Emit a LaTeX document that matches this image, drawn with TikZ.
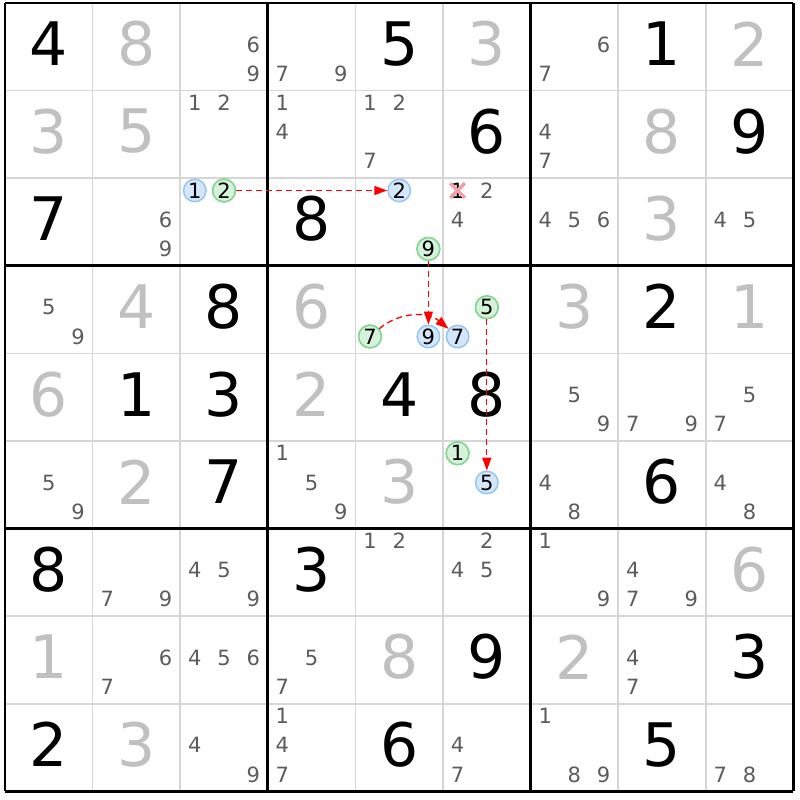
\documentclass[tikz,border=0pt]{standalone}
\usepackage{fontspec}
\setmainfont{DejaVu Sans}
\usetikzlibrary{arrows.meta}
\definecolor{candgray}{HTML}{5C5C5C}
\definecolor{solvedgray}{HTML}{C0C0C0}
\definecolor{gridgray}{HTML}{D6D6D6}
\definecolor{onfill}{HTML}{D4E6FA}
\definecolor{ondraw}{HTML}{90C4F4}
\definecolor{offfill}{HTML}{D6F2DA}
\definecolor{offdraw}{HTML}{84D894}
\definecolor{xpink}{HTML}{F4A0A8}

% style, row, column, digit
\newcommand{\putcand}[4]{%
  \pgfmathsetmacro\px{5+(#3-1)*87.6+14.6+29.2*mod(#4-1,3)}%
  \pgfmathsetmacro\py{3+(#2-1)*87.6+12.3+29.2*div(#4-1,3)}%
  \node[#1] (c#2#3#4) at (\px,\py) {#4};}

\begin{document}
\begin{tikzpicture}[x=1pt, y=-1pt,
    given/.style={inner sep=0pt, font=\fontsize{60}{60}\selectfont},
    solved/.style={given, text=solvedgray},
    cand/.style={inner sep=0pt, text=candgray, font=\fontsize{21}{21}\selectfont},
    elim/.style={cand, text=black},
    oncand/.style={cand, text=black, circle, draw=ondraw, fill=onfill, line width=1.4pt, minimum size=22.5pt},
    offcand/.style={oncand, draw=offdraw, fill=offfill},
    link/.style={red, line width=1.3pt, dash pattern=on 6pt off 4pt, -{Triangle[length=13pt,width=9pt]}}]
  \useasboundingbox (0,0) rectangle (800,800);
  \fill[white] (0,0) rectangle (800,800);
  % thin cell lines, then box lines
  \foreach \i in {1,2,4,5,7,8} {
    \draw[gridgray, line width=1.6pt] ({5+\i*87.6},3) -- ({5+\i*87.6},791.4);
    \draw[gridgray, line width=1.6pt] (5,{3+\i*87.6}) -- (793.4,{3+\i*87.6});
  }
  \foreach \i in {0,3,6,9} {
    \draw[black, line width=2.8pt] ({5+\i*87.6},3) -- ({5+\i*87.6},791.4);
    \draw[black, line width=2.8pt] (5,{3+\i*87.6}) -- (793.4,{3+\i*87.6});
  }
  \foreach \r/\c/\d in {1/1/4, 1/5/5, 1/8/1, 2/6/6, 2/9/9, 3/1/7, 3/4/8, 4/3/8, 4/8/2,
      5/2/1, 5/3/3, 5/5/4, 5/6/8, 6/3/7, 6/8/6, 7/1/8, 7/4/3, 8/6/9, 8/9/3,
      9/1/2, 9/5/6, 9/8/5}
    \node[given] (g\r\c) at ({5+(\c-0.5)*87.6},{3+(\r-0.5)*87.6-3}) {\d};
  \foreach \r/\c/\d in {1/2/8, 1/6/3, 1/9/2, 2/1/3, 2/2/5, 2/8/8, 3/8/3, 4/2/4, 4/4/6,
      4/7/3, 4/9/1, 5/1/6, 5/4/2, 6/2/2, 6/5/3, 7/9/6, 8/1/1, 8/5/8, 8/7/2, 9/2/3}
    \node[solved] (g\r\c) at ({5+(\c-0.5)*87.6},{3+(\r-0.5)*87.6-3}) {\d};
  \foreach \r/\c/\ds in {1/3/{6,9}, 1/4/{7,9}, 1/7/{6,7}, 2/3/{1,2}, 2/4/{1,4}, 2/5/{1,2,7},
      2/7/{4,7}, 3/2/{6,9}, 3/6/{2,4}, 3/7/{4,5,6}, 3/9/{4,5}, 4/1/{5,9}, 5/7/{5,9},
      5/8/{7,9}, 5/9/{5,7}, 6/1/{5,9}, 6/4/{1,5,9}, 6/7/{4,8}, 6/9/{4,8}, 7/2/{7,9},
      7/3/{4,5,9}, 7/5/{1,2}, 7/6/{2,4,5}, 7/7/{1,9}, 7/8/{4,7,9}, 8/2/{6,7}, 8/3/{4,5,6},
      8/4/{5,7}, 8/8/{4,7}, 9/3/{4,9}, 9/4/{1,4,7}, 9/6/{4,7}, 9/7/{1,8,9}, 9/9/{7,8}}
    \foreach \d in \ds {\putcand{cand}{\r}{\c}{\d}}
  % chain candidates
  \putcand{elim}{3}{6}{1}
  \foreach \r/\c/\d in {3/3/1, 3/5/2, 4/5/9, 4/6/7, 6/6/5}
    \putcand{oncand}{\r}{\c}{\d}
  \foreach \r/\c/\d in {3/3/2, 3/5/9, 4/5/7, 4/6/5, 6/6/1}
    \putcand{offcand}{\r}{\c}{\d}
  \draw[xpink, line width=2.4pt, opacity=0.85]
    ([shift={(-7,-7)}]c361.center) -- ([shift={(7,7)}]c361.center)
    ([shift={(-7,7)}]c361.center) -- ([shift={(7,-7)}]c361.center);
  % links
  \draw[link] (c332) -- (c352);
  \draw[link] (c359) -- (c459);
  \draw[link] (c457) to[bend left=40] (c467);
  \draw[link] (c465) -- (c665);
\end{tikzpicture}
\end{document}
